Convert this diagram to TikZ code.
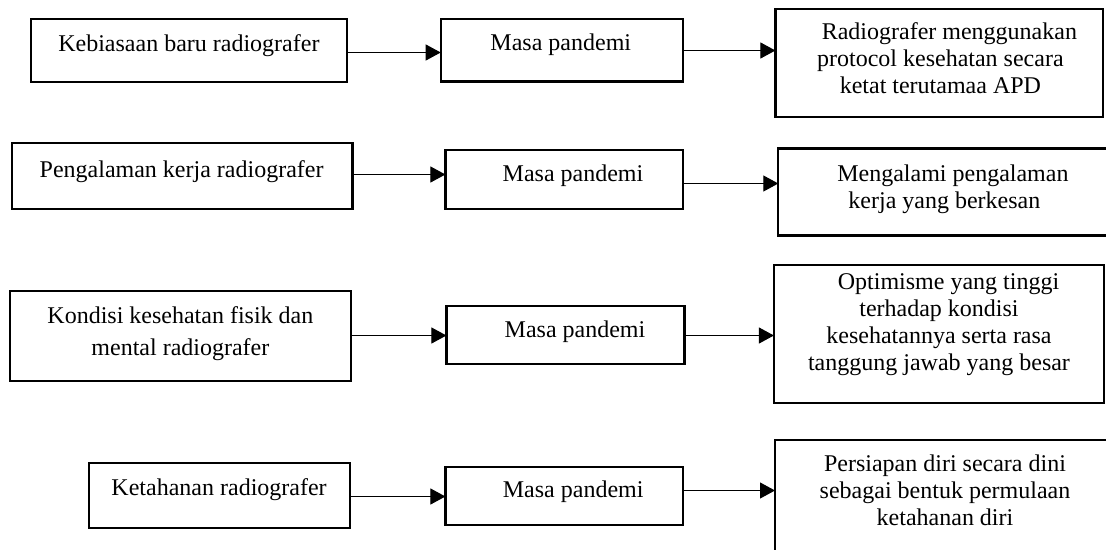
\documentclass[tikz,border=0pt]{standalone}
\usepackage{fontspec}
\setmainfont{Liberation Serif}
\usetikzlibrary{arrows.meta}
\newcommand{\st}{\rule[-6pt]{0pt}{21pt}}
\begin{document}
\begin{tikzpicture}[x=1pt,y=-1pt,
  box/.style={draw=black, line width=2.2pt, rectangle, inner sep=0pt, outer sep=0pt},
  txt/.style={inner sep=0pt, outer sep=0pt, align=center, font=\fontsize{24}{27}\selectfont},
  arr/.style={draw=black, line width=1.1pt, -{Triangle[length=15pt,width=16pt]}}]
\useasboundingbox (0,0) rectangle (1106,549);
\fill[white] (0,0) rectangle (1106,549);
\clip (0,0) rectangle (1106,549);
% row 1
\node[box, minimum width=316pt, minimum height=63pt] (A1) at (189.1,50.5) {};
\node[box, minimum width=242.6pt, minimum height=62.5pt] (B1) at (562,50.25) {};
\node[box, minimum width=327.6pt, minimum height=108pt] (C1) at (939.2,63) {};
\node[txt] (tA1) at (188.9,45.8) {\st Kebiasaan baru radiografer};
\node[txt] (tB1) at (560.8,45.6) {\st Masa pandemi};
\node[txt] (tC1) at (940.4,60.9) {\st\hspace*{18pt}Radiografer menggunakan\\\st protocol kesehatan secara\\\st ketat terutamaa APD};
\draw[arr] (A1.east |- 0,52.5) -- (B1.west |- 0,52.5);
\draw[arr] (B1.east |- 0,50.5) -- (C1.west |- 0,50.5);
% row 2
\node[box, minimum width=340.7pt, minimum height=66pt] (A2) at (182.15,176) {};
\node[box, minimum width=237.9pt, minimum height=59pt] (B2) at (564.35,179.5) {};
\node[box, minimum width=351.7pt, minimum height=87pt] (C2) at (954.15,192) {};
\node[txt] (tA2) at (181.6,171.8) {\st Pengalaman kerja radiografer};
\node[txt] (tB2) at (573,175.8) {\st Masa pandemi};
\node[txt] (tC2) at (944.4,189.2) {\st\hspace*{17pt}Mengalami pengalaman\\\st kerja yang berkesan};
\draw[arr] (A2.east |- 0,174.5) -- (B2.west |- 0,174.5);
\draw[arr] (B2.east |- 0,183.5) -- (C2.west |- 0,183.5);
% row 3
\node[box, minimum width=341.1pt, minimum height=90pt] (A3) at (180.15,336) {};
\node[box, minimum width=238pt, minimum height=58pt] (B3) at (565.4,335) {};
\node[box, minimum width=330.1pt, minimum height=138pt] (C3) at (938.95,334) {};
\node[txt] (tA3) at (180.4,333.7) {\st Kondisi kesehatan fisik dan\\[5pt]\st mental radiografer};
\node[txt] (tB3) at (575,332.5) {\st Masa pandemi};
\node[txt] (tC3) at (939,325) {\st\hspace*{19pt}Optimisme yang tinggi\\\st terhadap kondisi\hspace*{7pt}\\\st kesehatannya serta rasa\\\st tanggung jawab yang besar};
\draw[arr] (A3.east |- 0,335.5) -- (B3.west |- 0,335.5);
\draw[arr] (B3.east |- 0,335.5) -- (C3.west |- 0,335.5);
% row 4
\node[box, minimum width=261.4pt, minimum height=65pt] (A4) at (219.3,495.5) {};
\node[box, minimum width=237.9pt, minimum height=58pt] (B4) at (564.35,496) {};
\node[box, minimum width=355pt, minimum height=140pt] (C4) at (952.5,510) {};
\node[txt] (tA4) at (219.1,489.8) {\st Ketahanan radiografer};
\node[txt] (tB4) at (573.2,492.5) {\st Masa pandemi};
\node[txt] (tC4) at (945,493.3) {\st Persiapan diri secara dini\\\st sebagai bentuk permulaan\\\st ketahanan diri};
\draw[arr] (A4.east |- 0,496.5) -- (B4.west |- 0,496.5);
\draw[arr] (B4.east |- 0,490.5) -- (C4.west |- 0,490.5);
\end{tikzpicture}
\end{document}
